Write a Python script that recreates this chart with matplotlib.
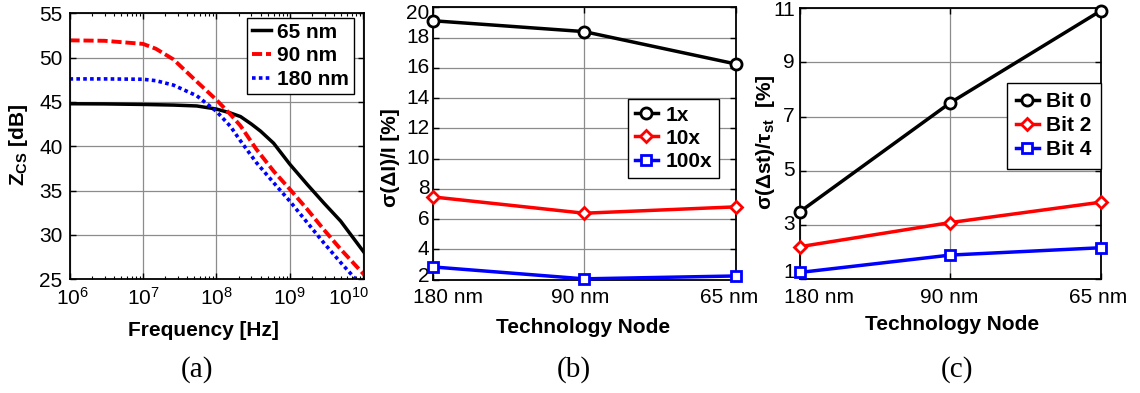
import matplotlib
matplotlib.use('Agg')
import matplotlib.pyplot as plt
import matplotlib.transforms as mtransforms
from matplotlib.ticker import LogLocator, NullFormatter, FixedLocator

plt.rcParams['font.family'] = ['Liberation Sans', 'DejaVu Sans']
plt.rcParams['mathtext.fontset'] = 'custom'
plt.rcParams['mathtext.rm'] = 'Liberation Sans'
plt.rcParams['mathtext.it'] = 'Liberation Sans:italic'
plt.rcParams['mathtext.bf'] = 'Liberation Sans:bold'

# ---------------- data ----------------
freq_65nm_hz = [1e6, 3e6, 1e7, 2.6e7, 5.4e7, 1e8, 1.55e8, 2.13e8, 3e8, 4e8,
                6e8, 1e9, 1.72e9, 2.9e9, 4.9e9, 1.03e10]
z_65nm = [44.8, 44.78, 44.72, 44.65, 44.55, 44.2, 43.76, 43.35, 42.5, 41.7,
          40.35, 37.97, 35.7, 33.6, 31.57, 28.0]
freq_90nm_hz = [1e6, 3e6, 1e7, 1.5e7, 2.6e7, 5.4e7, 1e8, 1.55e8, 2.13e8, 3.5e8,
                6e8, 1e9, 1.72e9, 2.9e9, 4.9e9, 1.03e10]
z_90nm = [51.95, 51.9, 51.55, 51.0, 49.8, 47.3, 45.24, 43.6, 42.3, 39.66,
          37.2, 35.15, 32.9, 30.6, 28.4, 25.5]
freq_180nm_hz = [1e6, 3e6, 1e7, 1.5e7, 2.6e7, 5.4e7, 1e8, 1.55e8, 2.13e8, 3.5e8,
                 6e8, 1e9, 1.72e9, 2.9e9, 4.9e9, 7.9e9]
z_180nm = [47.6, 47.6, 47.56, 47.4, 46.9, 45.7, 43.94, 42.25, 40.6, 38.16,
           35.9, 33.8, 31.4, 29.1, 26.9, 25.0]
series_a = ['65 nm', '90 nm', '180 nm']

nodes = ['180 nm', '90 nm', '65 nm']
sigI_1x = [19.12, 18.4, 16.26]
sigI_10x = [7.47, 6.39, 6.81]
sigI_100x = [2.84, 2.05, 2.24]
series_b = ['1x', '10x', '100x']

sigT_bit0 = [3.49, 7.51, 10.9]
sigT_bit2 = [2.2, 3.09, 3.84]
sigT_bit4 = [1.25, 1.89, 2.16]
series_c = ['Bit 0', 'Bit 2', 'Bit 4']

a_xticks = [1e6, 1e7, 1e8, 1e9, 1e10]
a_xticklabels = [r'$10^{6}$', r'$10^{7}$', r'$10^{8}$', r'$10^{9}$', r'$10^{10}$']
a_yticks = [25, 30, 35, 40, 45, 50, 55]
b_yticks = [2, 4, 6, 8, 10, 12, 14, 16, 18, 20]
c_yticks = [1, 3, 5, 7, 9, 11]

# ---------------- figure ----------------
W, H = 1140, 393
fig = plt.figure(figsize=(W / 100, H / 100), dpi=100)

def px_axes(l, r, t, b):
    return fig.add_axes([l / W, 1 - b / H, (r - l) / W, (b - t) / H])

ax_a = px_axes(69.5, 364.3, 13.3, 279.3)
ax_b = px_axes(432.5, 735.7, 7.4, 279.6)
ax_c = px_axes(800.0, 1100.7, 8.1, 279.2)

FS = 15
GRID = '#8c8c8c'

def style(ax):
    for s in ax.spines.values():
        s.set_linewidth(1.3)
        s.set_color('black')
    ax.tick_params(which='major', direction='in', top=True, right=True,
                   length=4, width=1.0, labelsize=FS, pad=5)
    ax.tick_params(which='minor', direction='in', top=True, right=True,
                   length=2, width=0.8)
    ax.grid(True, which='major', color=GRID, lw=0.9)
    ax.set_axisbelow(True)

def shifted(base, dx_px, dy_px):
    return base + mtransforms.ScaledTranslation(dx_px / 100, dy_px / 100,
                                                fig.dpi_scale_trans)

def xtick_texts(ax, xs, labels, y_axes, offsets_px):
    base = mtransforms.blended_transform_factory(ax.transData, ax.transAxes)
    for x, lab, off in zip(xs, labels, offsets_px):
        ax.text(x, y_axes, lab, transform=shifted(base, off, 0),
                ha='center', va='center', fontsize=FS)

def ytick_texts(ax, ys, gap_px, dy_first, dy_last):
    base = mtransforms.blended_transform_factory(ax.transAxes, ax.transData)
    for i, y in enumerate(ys):
        dy = dy_first if i == 0 else (dy_last if i == len(ys) - 1 else 0)
        ax.text(0, y, f'{y:g}', transform=shifted(base, -gap_px, dy),
                ha='right', va='center', fontsize=FS)

# ---- panel (a) ----
ax = ax_a
style(ax)
ax.set_xscale('log')
ax.plot(freq_65nm_hz, z_65nm, color='black', lw=2.5, label=series_a[0])
ax.plot(freq_90nm_hz, z_90nm, color='red', lw=2.8, ls=(0, (2.6, 1.0)), label=series_a[1])
ax.plot(freq_180nm_hz, z_180nm, color='blue', lw=2.6, ls=(0, (1.0, 0.9)),
        dash_capstyle='butt', label=series_a[2])
ax.set_xlim(1e6, 1.03e10)
ax.set_ylim(25, 55)
ax.set_yticks(a_yticks)
ax.xaxis.set_major_locator(FixedLocator(a_xticks))
ax.xaxis.set_minor_locator(LogLocator(base=10, subs=range(2, 10), numticks=20))
ax.xaxis.set_minor_formatter(NullFormatter())
ax.set_xticklabels([])
xtick_texts(ax, a_xticks, a_xticklabels, -0.07, [2.5, 0, 0, 0, -15])
ax.set_xlabel('Frequency [Hz]', fontsize=FS, fontweight='bold')
ax.xaxis.label.set_va('center')
ax.xaxis.set_label_coords(0.455, -0.192)
ax.set_ylabel(r'Z$_{\mathbf{CS}}$ [dB]', fontsize=FS, fontweight='bold')
ax.yaxis.label.set_va('center')
ax.yaxis.set_label_coords(-0.174, 0.506)
leg = ax.legend(loc='upper left', bbox_to_anchor=(0.601, 0.984), borderaxespad=0,
                prop={'weight': 'bold', 'size': FS}, handlelength=0.9,
                handletextpad=0.3, labelspacing=0.22, borderpad=0.25,
                fancybox=False, framealpha=1, edgecolor='black')
leg.get_frame().set_linewidth(1.0)

# ---- panel (b) / (c) ----
xs = list(range(len(nodes)))
mk = dict(mfc='white', mew=2.0, lw=2.5, clip_on=False, zorder=5)

def node_panel(ax, ys, names, yticks, ylim, ylabel, lab_coords, xoffs,
               leg_anchor, ytxt, xlab_coords, ygap, ydy, lspace, bpad):
    style(ax)
    ax.plot(xs, ys[0], color='black', marker='o', ms=8, label=names[0], **mk)
    ax.plot(xs, ys[1], color='red', marker='D', ms=6.5, label=names[1], **mk)
    ax.plot(xs, ys[2], color='blue', marker='s', ms=6.5, label=names[2], **mk)
    ax.set_xlim(0, len(nodes) - 1)
    ax.set_ylim(*ylim)
    ax.set_yticks(yticks)
    ax.set_yticklabels([])
    ytick_texts(ax, yticks, ygap, ydy[0], ydy[1])
    ax.set_xticks(xs)
    ax.set_xticklabels([])
    xtick_texts(ax, xs, nodes, ytxt, xoffs)
    ax.set_xlabel('Technology Node', fontsize=FS, fontweight='bold')
    ax.xaxis.label.set_va('center')
    ax.xaxis.set_label_coords(*xlab_coords)
    ax.set_ylabel(ylabel, fontsize=FS, fontweight='bold')
    ax.yaxis.label.set_va('center')
    ax.yaxis.set_label_coords(*lab_coords)
    lg = ax.legend(loc='upper left', bbox_to_anchor=leg_anchor, borderaxespad=0,
                   prop={'weight': 'bold', 'size': FS}, handlelength=1.1,
                   handletextpad=0.35, labelspacing=lspace, borderpad=bpad,
                   fancybox=False, framealpha=1, edgecolor='black')
    lg.get_frame().set_linewidth(1.0)

node_panel(ax_b, [sigI_1x, sigI_10x, sigI_100x], series_b, b_yticks, (2, 20),
           'σ(ΔI)/I [%]', (-0.138, 0.447), [15.5, -4, -7], (0.646, 0.664),
           -0.0665, (0.496, -0.176), 3, (3, -6), 0.2, 0.32)
node_panel(ax_c, [sigT_bit0, sigT_bit2, sigT_bit4], series_c, c_yticks, (1, 11),
           r'σ(Δst)/τ$_{\mathbf{st}}$  [%]', (-0.116, 0.506), [19, -1, -3],
           (0.687, 0.725), -0.068, (0.505, -0.168), 5, (7, -2.5), 0.25, 0.45)

for x, t in [(197, '(a)'), (574, '(b)'), (957, '(c)')]:
    fig.text(x / W, 1 - 370 / H, t, family=['Liberation Serif', 'DejaVu Serif'],
             fontsize=21, ha='center', va='center')

fig.savefig('out.png', dpi=100)
